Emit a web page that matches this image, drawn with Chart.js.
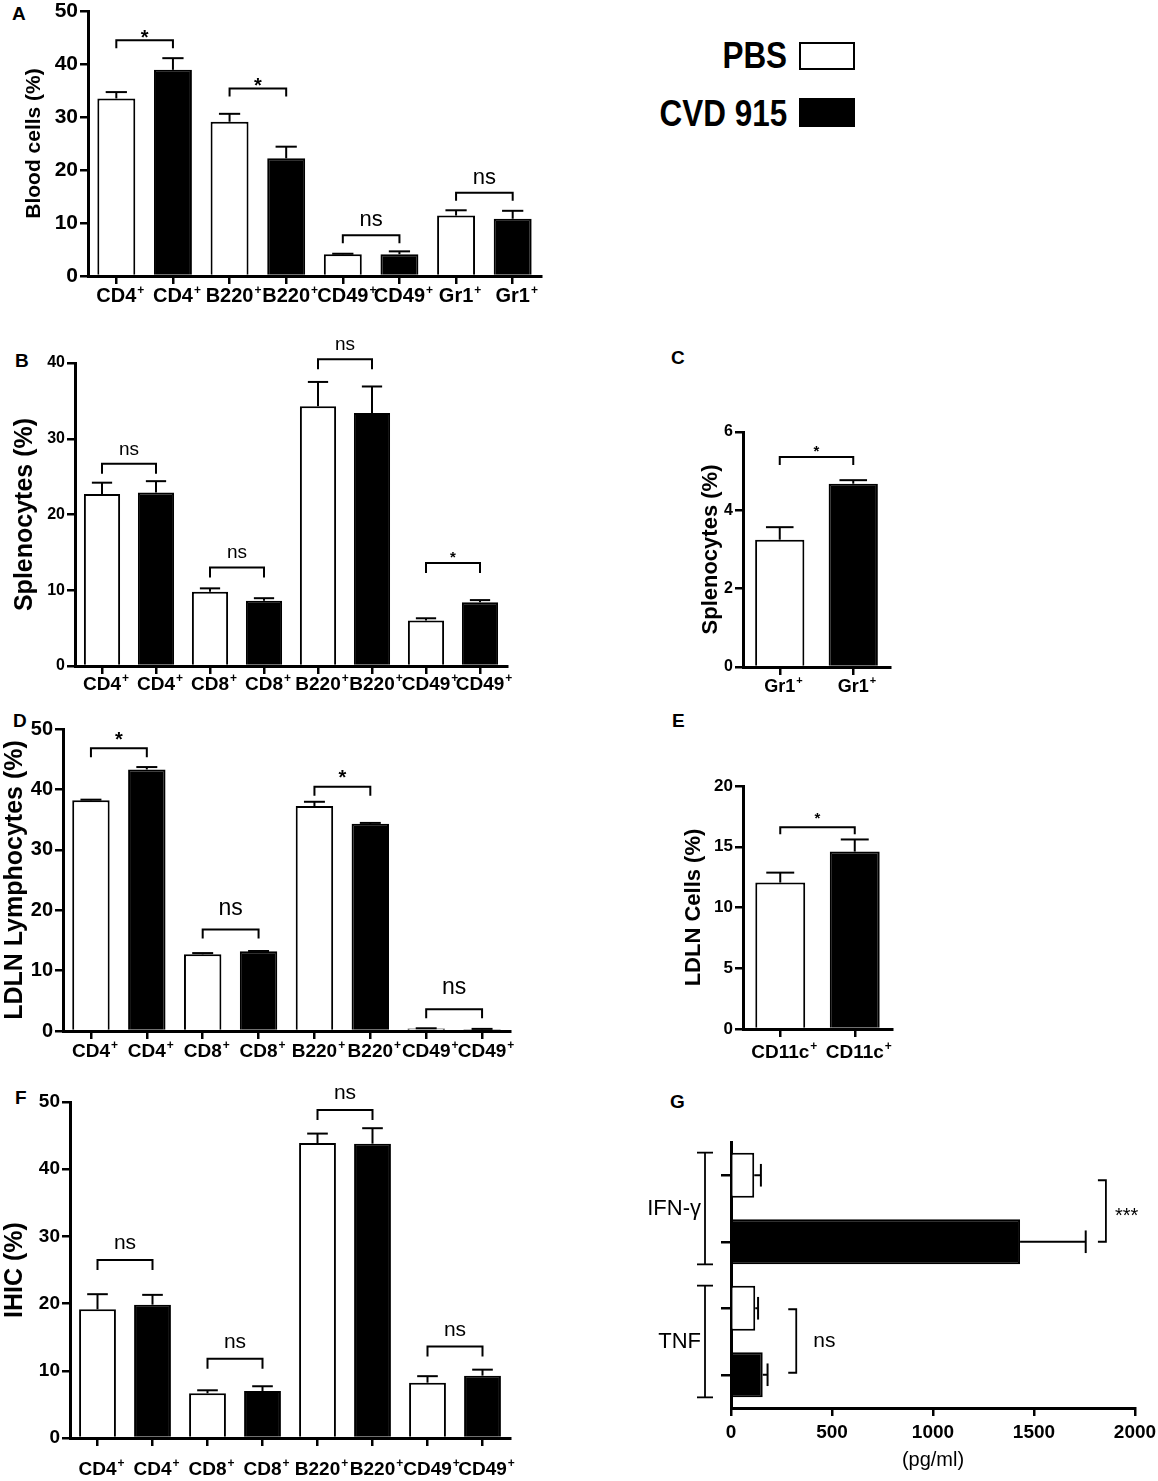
<!DOCTYPE html>
<html>
<head>
<meta charset="utf-8">
<script src="https://cdn.jsdelivr.net/npm/chart.js@4.4.0/dist/chart.umd.min.js"></script>
<style>
html, body { margin: 0; padding: 0; background: #fff; overflow: hidden; }
body { width: 1158px; height: 1481px; position: relative; font-family: "Liberation Sans", Arial, Helvetica, sans-serif; }
canvas { position: absolute; }
.lt { position: absolute; font-weight: bold; font-size: 19px; line-height: 1; }
.lg { position: absolute; font-weight: bold; font-size: 37px; line-height: 1; transform: scaleX(0.85); transform-origin: right center; white-space: nowrap; }
.sw { position: absolute; box-sizing: border-box; border: 2px solid #000; }
</style>
</head>
<body>
<div class="lt" style="left:12px;top:4px">A</div>
<div class="lt" style="left:15px;top:351px">B</div>
<div class="lt" style="left:671px;top:348px">C</div>
<div class="lt" style="left:13px;top:711px">D</div>
<div class="lt" style="left:672px;top:711px">E</div>
<div class="lt" style="left:15px;top:1088px">F</div>
<div class="lt" style="left:670px;top:1092px">G</div>

<div class="lg" id="lg0" style="right:371px;top:37px"></div>
<div class="sw" style="left:799px;top:42px;width:56px;height:28px;background:#fff"></div>
<div class="lg" id="lg1" style="right:371px;top:95px"></div>
<div class="sw" style="left:799px;top:98px;width:56px;height:29px;background:#000"></div>

<canvas id="cA"></canvas>
<canvas id="cB"></canvas>
<canvas id="cC"></canvas>
<canvas id="cD"></canvas>
<canvas id="cE"></canvas>
<canvas id="cF"></canvas>
<canvas id="cG"></canvas>

<script>
const seriesNames = ['PBS', 'CVD 915'];

// A - blood
const catsA = ['CD4', 'CD4', 'B220', 'B220', 'CD49', 'CD49', 'Gr1', 'Gr1'];
const meanA = [33.5, 38.9, 29.1, 22.2, 4.1, 4.1, 11.4, 10.8];
const errA = [1.2, 2.2, 1.5, 2.2, 0.1, 0.55, 1.0, 1.5];
const sigA = ['*', '*', 'ns', 'ns'];
const sigYA = [44.5, 35.4, 7.7, 15.7];

// B - splenocytes
const catsB = ['CD4', 'CD4', 'CD8', 'CD8', 'B220', 'B220', 'CD49', 'CD49'];
const meanB = [22.7, 22.9, 9.8, 8.6, 34.3, 33.4, 6.0, 8.4];
const errB = [1.5, 1.5, 0.45, 0.35, 3.2, 3.5, 0.3, 0.3];
const sigB = ['ns', 'ns', 'ns', '*'];
const sigYB = [26.7, 13.0, 40.5, 13.6];

// C - splenocytes Gr1
const catsC = ['Gr1', 'Gr1'];
const meanC = [3.25, 4.68];
const errC = [0.32, 0.09];
const sigC = ['*'];
const sigYC = [5.36];

// D - LDLN lymphocytes
const catsD = ['CD4', 'CD4', 'CD8', 'CD8', 'B220', 'B220', 'CD49', 'CD49'];
const meanD = [38.2, 43.3, 12.7, 13.2, 37.25, 34.3, 0.4, 0.3];
const errD = [0.1, 0.4, 0.2, 0.05, 0.7, 0.15, 0.05, 0.05];
const sigD = ['*', 'ns', '*', 'ns'];
const sigYD = [46.8, 16.8, 40.45, 3.6];

// E - LDLN CD11c
const catsE = ['CD11c', 'CD11c'];
const meanE = [12.05, 14.6];
const errE = [0.82, 1.0];
const sigE = ['*'];
const sigYE = [16.6];

// F - IHIC
const catsF = ['CD4', 'CD4', 'CD8', 'CD8', 'B220', 'B220', 'CD49', 'CD49'];
const meanF = [19.15, 19.84, 6.65, 7.0, 43.9, 43.8, 8.23, 9.28];
const errF = [2.25, 1.46, 0.45, 0.7, 1.4, 2.3, 0.97, 0.89];
const sigF = ['ns', 'ns', 'ns', 'ns'];
const sigYF = [26.5, 11.8, 48.8, 13.6];

// G - cytokines (pg/ml)
const cytokines = ['IFN-γ', 'TNF'];
const pbsG = [115, 120];
const cvdG = [1431, 157];
const pbsErrG = [33, 14];
const cvdErrG = [325, 24];
const sigG = ['***', 'ns'];
const sigXG = [1856, 323];
const ticksG = [0, 500, 1000, 1500, 2000];

const FONT = '"Liberation Sans", Arial, Helvetica, sans-serif';
Chart.defaults.font.family = FONT;
Chart.defaults.color = '#000';

document.getElementById('lg0').textContent = seriesNames[0];
document.getElementById('lg1').textContent = seriesNames[1];

function seg(ctx, pts) {
  ctx.beginPath();
  ctx.moveTo(pts[0], pts[1]);
  for (let i = 2; i < pts.length; i += 2) ctx.lineTo(pts[i], pts[i + 1]);
  ctx.stroke();
}

function drawSigLabel(ctx, s, cx, yb, st) {
  ctx.textAlign = 'center';
  ctx.textBaseline = 'alphabetic';
  if (s.indexOf('*') >= 0) {
    ctx.font = `bold ${st.star}px ${FONT}`;
    ctx.fillText(s, cx, yb - st.starGap + 0.57 * st.star);
  } else {
    ctx.font = `${st.ns}px ${FONT}`;
    ctx.fillText(s, cx, yb - st.nsGap + 0.26 * st.ns);
  }
}

function barExtras(chart, d, st) {
  const { ctx } = chart;
  const x = chart.scales.x, y = chart.scales.y;
  const meta = chart.getDatasetMeta(0);
  ctx.save();
  ctx.strokeStyle = '#000';
  ctx.fillStyle = '#000';
  ctx.lineWidth = 2;
  // error bars (upper only)
  d.err.forEach((e, i) => {
    const b = meta.data[i];
    const t = y.getPixelForValue(d.mean[i] + e);
    const h = b.width * 0.28;
    seg(ctx, [b.x, b.y, b.x, t]);
    seg(ctx, [b.x - h, t, b.x + h, t]);
  });
  // significance brackets between PBS / CVD pairs
  d.sig.forEach((s, k) => {
    const xi = x.getPixelForValue(2 * k), xj = x.getPixelForValue(2 * k + 1);
    const yb = y.getPixelForValue(d.sigY[k]);
    seg(ctx, [xi, yb + st.leg, xi, yb, xj, yb, xj, yb + st.leg]);
    drawSigLabel(ctx, s, (xi + xj) / 2, yb, st);
  });
  // category labels with superscript +
  d.cats.forEach((c, i) => {
    const cx = x.getPixelForValue(i);
    const base = chart.chartArea.bottom + st.labOff;
    ctx.font = `bold ${st.lab}px ${FONT}`;
    ctx.textAlign = 'center';
    ctx.textBaseline = 'alphabetic';
    ctx.fillText(c, cx, base);
    const w = ctx.measureText(c).width;
    ctx.font = `bold ${Math.round(st.lab * 0.62)}px ${FONT}`;
    ctx.textAlign = 'left';
    ctx.fillText('+', cx + w / 2 + 1, base - st.lab * 0.42);
  });
  ctx.restore();
}

function barPanel(id, box, plot, d, ax, st) {
  const cv = document.getElementById(id);
  cv.width = box.w;
  cv.height = box.h;
  cv.style.left = box.x + 'px';
  cv.style.top = box.y + 'px';
  const yW = plot.left - box.x;
  const xH = box.y + box.h - plot.bottom;
  new Chart(cv, {
    type: 'bar',
    data: {
      labels: d.cats,
      datasets: [{
        data: d.mean,
        backgroundColor: d.cats.map((c, i) => (i % 2 ? '#000' : '#fff')),
        borderColor: '#000',
        borderWidth: 2,
        barPercentage: 0.67,
        categoryPercentage: 1
      }]
    },
    options: {
      responsive: false,
      animation: false,
      layout: { padding: { top: plot.top - box.y, right: box.x + box.w - plot.right, left: 0, bottom: 0 } },
      plugins: { legend: { display: false }, tooltip: { enabled: false } },
      scales: {
        x: {
          ticks: { display: false },
          grid: { drawOnChartArea: false, offset: false, tickLength: 8, lineWidth: 2.5, color: '#000', tickColor: '#000' },
          border: { color: '#000', width: 3 },
          afterFit: s => { s.height = xH; }
        },
        y: {
          min: 0,
          max: ax.max,
          ticks: { stepSize: ax.step, color: '#000', padding: 2, font: { size: ax.tick, weight: 'bold' } },
          grid: { drawOnChartArea: false, tickLength: 8, lineWidth: 2.5, color: '#000', tickColor: '#000' },
          border: { color: '#000', width: 3 },
          title: { display: true, text: ax.title, color: '#000', font: { size: ax.tsize, weight: 'bold' }, padding: { top: ax.tpad, bottom: 0 } },
          afterFit: s => { s.width = yW; }
        }
      }
    },
    plugins: [{ id: 'extras' + id, afterDatasetsDraw: chart => barExtras(chart, d, st) }]
  });
}

barPanel('cA', { x: 0, y: -20, w: 560, h: 340 }, { left: 88, top: 11, right: 541, bottom: 276 },
  { cats: catsA, mean: meanA, err: errA, sig: sigA, sigY: sigYA },
  { max: 50, step: 10, tick: 21, title: 'Blood cells (%)', tsize: 21, tpad: 22 },
  { leg: 8, star: 20, starGap: 8, ns: 22, nsGap: 15, lab: 20, labOff: 26 });

barPanel('cB', { x: 0, y: 330, w: 560, h: 370 }, { left: 75, top: 363, right: 507, bottom: 666 },
  { cats: catsB, mean: meanB, err: errB, sig: sigB, sigY: sigYB },
  { max: 40, step: 10, tick: 16, title: 'Splenocytes (%)', tsize: 25, tpad: 10 },
  { leg: 10, star: 15, starGap: 10, ns: 19, nsGap: 14, lab: 19, labOff: 24 });

barPanel('cC', { x: 660, y: 380, w: 260, h: 320 }, { left: 743, top: 432, right: 890, bottom: 667 },
  { cats: catsC, mean: meanC, err: errC, sig: sigC, sigY: sigYC },
  { max: 6, step: 2, tick: 16, title: 'Splenocytes (%)', tsize: 22, tpad: 38 },
  { leg: 8, star: 15, starGap: 10, ns: 19, nsGap: 14, lab: 18, labOff: 25 });

barPanel('cD', { x: 0, y: 700, w: 560, h: 370 }, { left: 63, top: 729, right: 510, bottom: 1031 },
  { cats: catsD, mean: meanD, err: errD, sig: sigD, sigY: sigYD },
  { max: 50, step: 10, tick: 20, title: 'LDLN Lymphocytes (%)', tsize: 25, tpad: 0 },
  { leg: 9, star: 20, starGap: 14, ns: 23, nsGap: 21, lab: 19, labOff: 26 });

barPanel('cE', { x: 660, y: 740, w: 260, h: 330 }, { left: 743, top: 786, right: 892, bottom: 1029 },
  { cats: catsE, mean: meanE, err: errE, sig: sigE, sigY: sigYE },
  { max: 20, step: 5, tick: 17, title: 'LDLN Cells (%)', tsize: 22, tpad: 21 },
  { leg: 7, star: 15, starGap: 13, ns: 19, nsGap: 14, lab: 19, labOff: 29 });

barPanel('cF', { x: 0, y: 1075, w: 560, h: 406 }, { left: 70, top: 1102, right: 510, bottom: 1438 },
  { cats: catsF, mean: meanF, err: errF, sig: sigF, sigY: sigYF },
  { max: 50, step: 10, tick: 19, title: 'IHIC (%)', tsize: 25, tpad: 0 },
  { leg: 10, star: 18, starGap: 12, ns: 21, nsGap: 16.5, lab: 19, labOff: 37 });

// G - horizontal bars built from the cytokine arrays
const slotsG = [], valsG = [], errsG = [], colorsG = [];
cytokines.forEach((c, g) => {
  slotsG.push(c + ' ' + seriesNames[0], c + ' ' + seriesNames[1]);
  valsG.push(pbsG[g], cvdG[g]);
  errsG.push(pbsErrG[g], cvdErrG[g]);
  colorsG.push('#fff', '#000');
});

function gExtras(chart) {
  const { ctx } = chart;
  const x = chart.scales.x, y = chart.scales.y;
  const meta = chart.getDatasetMeta(0);
  ctx.save();
  ctx.strokeStyle = '#000';
  ctx.fillStyle = '#000';
  ctx.lineWidth = 2;
  errsG.forEach((e, i) => {
    const b = meta.data[i];
    const r = x.getPixelForValue(valsG[i] + e);
    const h = b.height * 0.25;
    seg(ctx, [b.x, b.y, r, b.y]);
    seg(ctx, [r, b.y - h, r, b.y + h]);
  });
  const gx = chart.chartArea.left - 26;
  cytokines.forEach((c, g) => {
    const b0 = meta.data[2 * g], b1 = meta.data[2 * g + 1];
    const top = b0.y - b0.height / 2, bot = b1.y + b1.height / 2;
    ctx.lineWidth = 1.8;
    seg(ctx, [gx, top, gx, bot]);
    seg(ctx, [gx - 8, top, gx + 8, top]);
    seg(ctx, [gx - 8, bot, gx + 8, bot]);
    ctx.font = `22px ${FONT}`;
    ctx.textAlign = 'right';
    ctx.textBaseline = 'middle';
    ctx.fillText(c, gx - 4, (top + bot) / 2);
    // significance bracket
    const sx = x.getPixelForValue(sigXG[g]);
    const y0 = y.getPixelForValue(2 * g) + (g === 0 ? 5 : 1), y1 = y.getPixelForValue(2 * g + 1) - (g === 0 ? 0 : 2);
    seg(ctx, [sx - 8, y0, sx, y0, sx, y1, sx - 8, y1]);
    ctx.textAlign = 'left';
    const s = sigG[g];
    if (s.indexOf('*') >= 0) {
      ctx.font = `20px ${FONT}`;
      ctx.fillText(s, sx + 9, (y0 + y1) / 2 + 5);
    } else {
      ctx.font = `21px ${FONT}`;
      ctx.fillText(s, sx + 17, (y0 + y1) / 2);
    }
  });
  ctx.restore();
}

(function () {
  const box = { x: 630, y: 1120, w: 540, h: 361 };
  const plot = { left: 731, top: 1142, right: 1135, bottom: 1408 };
  const cv = document.getElementById('cG');
  cv.width = box.w;
  cv.height = box.h;
  cv.style.left = box.x + 'px';
  cv.style.top = box.y + 'px';
  new Chart(cv, {
    type: 'bar',
    data: {
      labels: slotsG,
      datasets: [{
        data: valsG,
        backgroundColor: colorsG,
        borderColor: '#000',
        borderWidth: 2,
        barPercentage: 0.68,
        categoryPercentage: 1
      }]
    },
    options: {
      indexAxis: 'y',
      responsive: false,
      animation: false,
      layout: { padding: { top: plot.top - box.y, right: box.x + box.w - plot.right, left: 0, bottom: 0 } },
      plugins: { legend: { display: false }, tooltip: { enabled: false } },
      scales: {
        x: {
          min: ticksG[0],
          max: ticksG[ticksG.length - 1],
          afterBuildTicks: s => { s.ticks = ticksG.map(v => ({ value: v })); },
          ticks: { color: '#000', padding: 5, font: { size: 19, weight: 'bold' }, callback: v => String(v) },
          grid: { drawOnChartArea: false, tickLength: 8, lineWidth: 2.5, color: '#000', tickColor: '#000' },
          border: { color: '#000', width: 3 },
          title: { display: true, text: '(pg/ml)', color: '#000', font: { size: 20 }, padding: { top: 0, bottom: 9 } },
          afterFit: s => { s.height = box.y + box.h - plot.bottom; }
        },
        y: {
          ticks: { display: false },
          grid: { drawOnChartArea: false, offset: false, tickLength: 10, lineWidth: 2.5, color: '#000', tickColor: '#000' },
          border: { color: '#000', width: 3 },
          afterFit: s => { s.width = plot.left - box.x; }
        }
      }
    },
    plugins: [{ id: 'extrasG', afterDatasetsDraw: gExtras }]
  });
})();
</script>
</body>
</html>
